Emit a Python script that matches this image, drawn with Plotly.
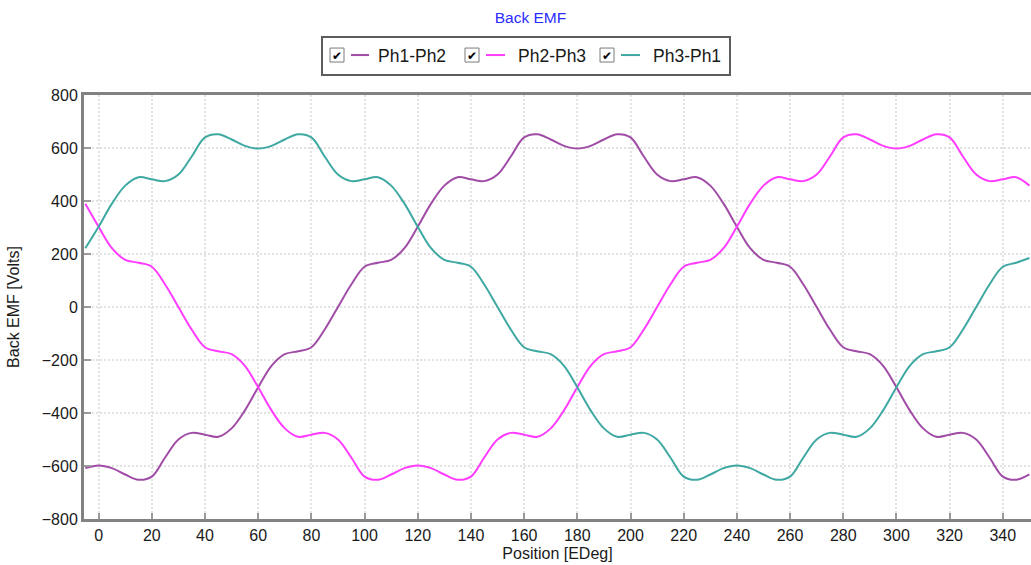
import plotly.graph_objects as go

# ---------------- data ----------------
position = list(range(-5, 351, 5))

ph1_ph2 = [-608, -598, -608, -632, -652, -640, -568, -500, -475, -482, -490, -458,
           -390, -303, -222, -178, -167, -152, -85, 0, 85, 152, 167, 178,
           222, 303, 390, 458, 490, 482, 475, 500, 568, 640, 652, 632,
           608, 598, 608, 632, 652, 640, 568, 500, 475, 482, 490, 458,
           390, 303, 222, 178, 167, 152, 85, 0, -85, -152, -167, -178,
           -222, -303, -390, -458, -490, -482, -475, -500, -568, -640, -652, -632]

ph2_ph3 = [390, 303, 222, 178, 167, 152, 85, 0, -85, -152, -167, -178,
           -222, -303, -390, -458, -490, -482, -475, -500, -568, -640, -652, -632,
           -608, -598, -608, -632, -652, -640, -568, -500, -475, -482, -490, -458,
           -390, -303, -222, -178, -167, -152, -85, 0, 85, 152, 167, 178,
           222, 303, 390, 458, 490, 482, 475, 500, 568, 640, 652, 632,
           608, 598, 608, 632, 652, 640, 568, 500, 475, 482, 490, 458]

ph3_ph1 = [222, 303, 390, 458, 490, 482, 475, 500, 568, 640, 652, 632,
           608, 598, 608, 632, 652, 640, 568, 500, 475, 482, 490, 458,
           390, 303, 222, 178, 167, 152, 85, 0, -85, -152, -167, -178,
           -222, -303, -390, -458, -490, -482, -475, -500, -568, -640, -652, -632,
           -608, -598, -608, -632, -652, -640, -568, -500, -475, -482, -490, -458,
           -390, -303, -222, -178, -167, -152, -85, 0, 85, 152, 167, 185]

series_names = ["Ph1-Ph2", "Ph2-Ph3", "Ph3-Ph1"]
series_values = [ph1_ph2, ph2_ph3, ph3_ph1]
series_colors = ["#a04ca6", "#ff3cff", "#3ea8a2"]

# ---------------- layout geometry (px) ----------------
W, H = 1031, 565
ML, MR, MT, MB = 84, 0, 95, 45.5
PW = W - ML - MR
PH = H - MT - MB


def px_x(px):
    return (px - ML) / PW


def px_y(py):
    return (H - MB - py) / PH


FONT = "Liberation Sans, Arial, sans-serif"

fig = go.Figure()
for name, vals, col in zip(series_names, series_values, series_colors):
    fig.add_trace(go.Scatter(
        x=position, y=vals, name=name, mode="lines",
        line=dict(color=col, width=2, shape="spline", smoothing=1.0),
        showlegend=False,
    ))

shapes = []
annotations = []

# legend frame
shapes.append(dict(type="rect", xref="paper", yref="paper",
                   x0=px_x(322), x1=px_x(730), y0=px_y(75), y1=px_y(37),
                   line=dict(color="#5c5c5c", width=2), fillcolor="white", layer="above"))

legend_items = [
    (330, 351, 369, 378),
    (465, 486, 505, 518),
    (600, 621, 640, 653),
]
for (cb, l0, l1, tx), name, col in zip(legend_items, series_names, series_colors):
    shapes.append(dict(type="rect", xref="paper", yref="paper",
                       x0=px_x(cb), x1=px_x(cb + 14), y0=px_y(62), y1=px_y(48),
                       line=dict(color="#7a7a7a", width=1), fillcolor="white", layer="above"))
    annotations.append(dict(xref="paper", yref="paper", x=px_x(cb + 7), y=px_y(55.5),
                            text="✔", showarrow=False, xanchor="center", yanchor="middle",
                            font=dict(family="DejaVu Sans", size=12, color="black")))
    shapes.append(dict(type="line", xref="paper", yref="paper",
                       x0=px_x(l0), x1=px_x(l1), y0=px_y(55), y1=px_y(55),
                       line=dict(color=col, width=2), layer="above"))
    annotations.append(dict(xref="paper", yref="paper", x=px_x(tx - 2), y=px_y(55.5),
                            text=name, showarrow=False, xanchor="left", yanchor="middle",
                            font=dict(family=FONT, size=17.5, color="#1a1a1a")))

axis_common = dict(
    showline=True, linewidth=3, linecolor="#828282", mirror=True,
    ticks="inside", tickwidth=2, tickcolor="#9a9a9a",
    showgrid=True, gridcolor="#e2e2e2", griddash="2px,2px", gridwidth=2,
    zeroline=False, automargin=False,
    tickfont=dict(family=FONT, size=16, color="#1a1a1a"),
)

fig.update_layout(
    width=W, height=H,
    margin=dict(l=ML, r=MR, t=MT, b=MB, pad=0, autoexpand=False),
    paper_bgcolor="white", plot_bgcolor="white",
    showlegend=False,
    title=dict(text="Back EMF", x=530.5 / W, xref="container", xanchor="center",
               y=1 - 18 / H, yref="container", yanchor="middle",
               font=dict(family=FONT, size=15.5, color="#2b2bff")),
    xaxis=dict(range=[-5.5, 350.6], tick0=0, dtick=20, ticklen=6,
               title=dict(text="Position [EDeg]", standoff=5,
                          font=dict(family=FONT, size=16, color="#1a1a1a")),
               **axis_common),
    yaxis=dict(range=[-800, 800], tick0=0, dtick=200, ticklen=7,
               title=dict(text="Back EMF [Volts]", standoff=19,
                          font=dict(family=FONT, size=16, color="#1a1a1a")),
               **axis_common),
    shapes=shapes,
    annotations=annotations,
)
fig.update_yaxes(mirror=False)

fig.write_html("out.html", config={"displayModeBar": False},
               post_script="document.body.style.margin='0';document.body.style.overflow='hidden';")
